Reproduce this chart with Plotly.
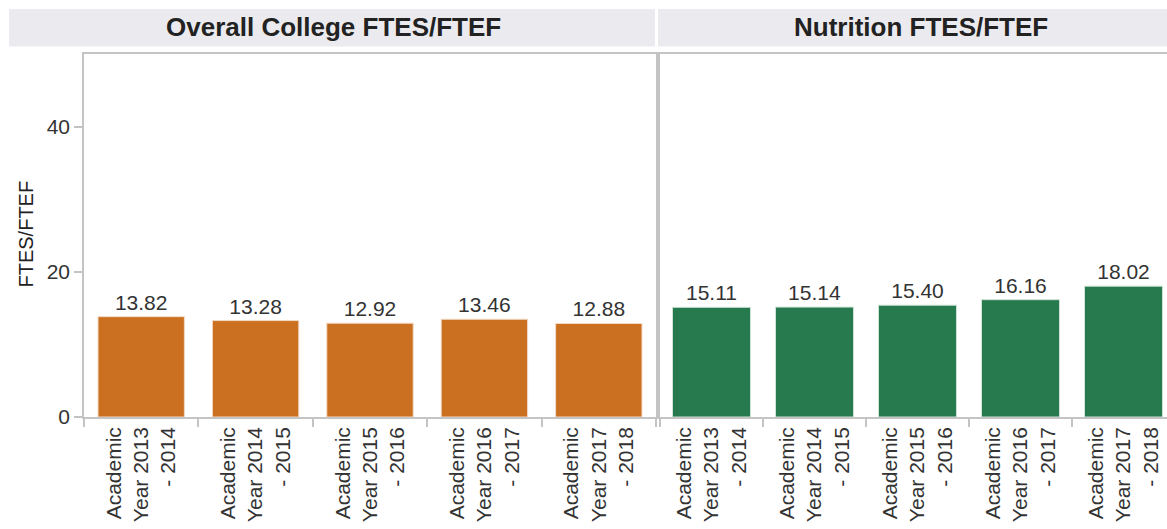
import plotly.graph_objects as go

# ---- data ----
categories = ["Academic<br>Year 2013<br>- 2014", "Academic<br>Year 2014<br>- 2015",
              "Academic<br>Year 2015<br>- 2016", "Academic<br>Year 2016<br>- 2017",
              "Academic<br>Year 2017<br>- 2018"]
overall_values = [13.82, 13.28, 12.92, 13.46, 12.88]
nutrition_values = [15.11, 15.14, 15.40, 16.16, 18.02]
panel_titles = ["Overall College FTES/FTEF", "Nutrition FTES/FTEF"]
y_tick_values = [0, 20, 40]
y_title = "FTES/FTEF"

# ---- layout constants (pixels) ----
W, H = 1167, 529
ML, MR, MT, MB = 84, 0, 54, 112
PW = W - ML - MR
PH = H - MT - MB

def px_x(x):
    return (x - ML) / PW

def px_y(y):
    return (H - MB - y) / PH

left_dom = [0, px_x(656)]
right_dom = [px_x(660), 1]
cell_right = 103.0
right_range_end = -0.5 + (W - 660) / cell_right

FONT = "Liberation Sans, Arial, sans-serif"
AX = "#c4c4c4"
TXT = "#333333"

fig = go.Figure()
fig.add_trace(go.Bar(x=categories, y=overall_values, xaxis="x", yaxis="y",
                     marker=dict(color="#CB7021", line=dict(color="#f3d9c4", width=1)),
                     width=0.755,
                     text=[f"{v:.2f}" for v in overall_values], textposition="outside",
                     textfont=dict(size=21, color=TXT, family=FONT),
                     cliponaxis=False, showlegend=False))
fig.add_trace(go.Bar(x=categories, y=nutrition_values, xaxis="x2", yaxis="y2",
                     marker=dict(color="#277A4D", line=dict(color="#cfe2d6", width=1)),
                     width=0.757,
                     text=[f"{v:.2f}" for v in nutrition_values], textposition="outside",
                     textfont=dict(size=21, color=TXT, family=FONT),
                     cliponaxis=False, showlegend=False))

xcommon = dict(type="category", showline=True, linecolor=AX, linewidth=1.5,
               ticks="outside", ticklen=8, tickcolor=AX, tickwidth=1.5,
               tickson="boundaries", tickangle=-90, showgrid=False,
               tickfont=dict(size=21, color=TXT, family=FONT), mirror=True)

fig.update_layout(
    width=W, height=H,
    margin=dict(l=ML, r=MR, t=MT, b=MB, autoexpand=False),
    paper_bgcolor="white", plot_bgcolor="white",
    bargap=0.245,
    font=dict(family=FONT, color=TXT),
    xaxis=dict(domain=left_dom, anchor="y", range=[-0.5, 4.5], **xcommon),
    xaxis2=dict(domain=right_dom, anchor="y2", range=[-0.5, right_range_end], **xcommon),
    yaxis=dict(domain=[0, 1], anchor="x", range=[0, 50], tickvals=y_tick_values,
               showline=True, linecolor=AX, linewidth=1.5, mirror=True,
               ticks="outside", ticklen=8, tickcolor=AX, tickwidth=1.5,
               showgrid=False, zeroline=False,
               tickfont=dict(size=21, color=TXT, family=FONT)),
    yaxis2=dict(domain=[0, 1], anchor="x2", range=[0, 50], tickvals=y_tick_values,
                showline=True, linecolor=AX, linewidth=1.5, mirror=False,
                ticks="", showticklabels=False, showgrid=False, zeroline=False),
)

# header bands
hdr_top, hdr_bot = px_y(9), px_y(46.5)
fig.add_shape(type="rect", xref="paper", yref="paper", x0=px_x(9), x1=px_x(655),
              y0=hdr_bot, y1=hdr_top, fillcolor="#EBEBEF", line=dict(width=0), layer="below")
fig.add_shape(type="rect", xref="paper", yref="paper", x0=px_x(658), x1=1.0,
              y0=hdr_bot, y1=hdr_top, fillcolor="#EBEBEF", line=dict(width=0), layer="below")

fig.add_annotation(text=f"<b>{panel_titles[0]}</b>", xref="paper", yref="paper",
                   x=px_x(333), y=px_y(27.5), xanchor="center", yanchor="middle",
                   showarrow=False, font=dict(size=26, color="#222222", family=FONT))
fig.add_annotation(text=f"<b>{panel_titles[1]}</b>", xref="paper", yref="paper",
                   x=px_x(921), y=px_y(27.5), xanchor="center", yanchor="middle",
                   showarrow=False, font=dict(size=26, color="#222222", family=FONT))

fig.add_annotation(text=y_title, xref="paper", yref="paper",
                   x=px_x(25.5), y=px_y(234), xanchor="center", yanchor="middle",
                   textangle=-90, showarrow=False,
                   font=dict(size=20, color="#222222", family=FONT))

fig.write_html("out.html", config={"displayModeBar": False},
               post_script="document.body.style.margin='0';document.body.style.overflow='hidden';")
